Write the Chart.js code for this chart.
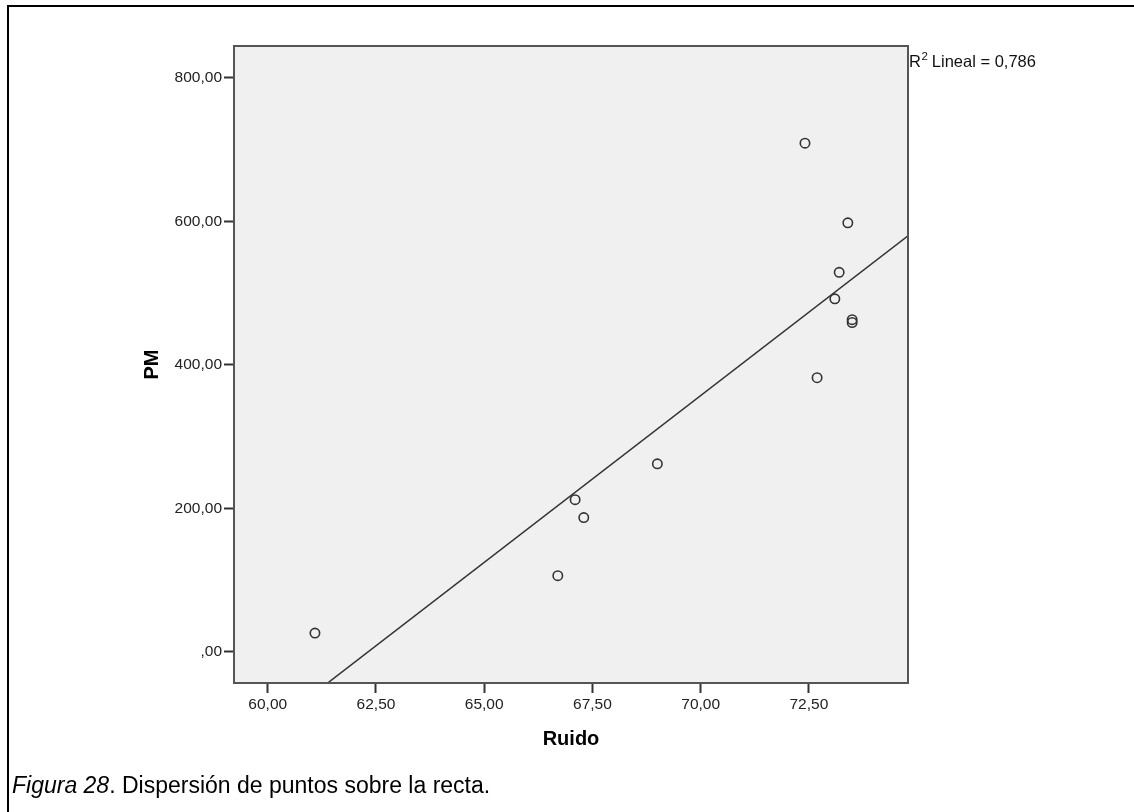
<!DOCTYPE html>
<html>
<head>
<meta charset="utf-8">
<script src="https://cdn.jsdelivr.net/npm/chart.js@4/dist/chart.umd.min.js"></script>
<style>
  html, body { margin: 0; padding: 0; background: #fff; overflow: hidden; }
  #wrap { position: relative; width: 1134px; height: 812px; }
  #frame { position: absolute; left: 7px; top: 5px; width: 1300px; height: 1000px;
           border-top: 2px solid #000; border-left: 2px solid #000; }
  #chart { position: absolute; left: 0; top: 0; }
  #caption { position: absolute; left: 12px; top: 774px; font-family: "Liberation Sans", Arial, sans-serif;
             font-size: 23px; line-height: 23px; color: #000; white-space: nowrap; }
</style>
</head>
<body>
<div id="wrap">
  <div id="frame"></div>
  <canvas id="chart" width="1134" height="812"></canvas>
  <div id="caption"><i>Figura 28</i>. Dispersión de puntos sobre la recta.</div>
</div>
<script>
// ========== DATA ==========
const ruido = [61.09, 66.70, 67.10, 67.30, 69.00, 72.41, 73.40, 73.20, 73.10, 73.50, 73.50, 72.69];
const pm    = [26, 106, 212, 187, 262, 709, 598, 529, 492, 463, 459, 382];

const xTicks = [60, 62.5, 65, 67.5, 70, 72.5];
const xTickLabels = ['60,00', '62,50', '65,00', '67,50', '70,00', '72,50'];
const yTicks = [0, 200, 400, 600, 800];
const yTickLabels = [',00', '200,00', '400,00', '600,00', '800,00'];

const xRange = [59.22, 74.79];
const yRange = [-43.6, 844.5];
const r2Text = 'Lineal = 0,786';

// least squares fit through the points
function linearFit(xs, ys) {
    const n = xs.length;
    const mx = xs.reduce((a, b) => a + b, 0) / n;
    const my = ys.reduce((a, b) => a + b, 0) / n;
    let sxy = 0, sxx = 0;
    for (let i = 0; i < n; i++) {
        sxy += (xs[i] - mx) * (ys[i] - my);
        sxx += (xs[i] - mx) * (xs[i] - mx);
    }
    const slope = sxy / sxx;
    return { slope, intercept: my - slope * mx };
}
const fit = linearFit(ruido, pm);
const fitLine = xRange.map(x => ({ x, y: fit.intercept + fit.slope * x }));

const FONT = '"Liberation Sans", Arial, sans-serif';
Chart.defaults.font.family = FONT;

const plotBox = {
    id: 'plotBox',
    beforeDraw(chart) {
        const a = chart.chartArea, ctx = chart.ctx;
        ctx.save();
        ctx.fillStyle = '#f0f0f0';
        ctx.fillRect(a.left, a.top, a.right - a.left, a.bottom - a.top);
        ctx.restore();
    },
    afterDraw(chart) {
        const a = chart.chartArea, ctx = chart.ctx;
        ctx.save();
        ctx.strokeStyle = '#555';
        ctx.lineWidth = 2;
        ctx.strokeRect(a.left, a.top, a.right - a.left, a.bottom - a.top);
        // R2 label
        ctx.fillStyle = '#111';
        ctx.textBaseline = 'alphabetic';
        ctx.textAlign = 'left';
        let x = a.right + 1;
        const base = 66.5;
        ctx.font = '16.5px ' + FONT;
        ctx.fillText('R', x, base);
        x += ctx.measureText('R').width + 0.5;
        ctx.font = '11.5px ' + FONT;
        ctx.fillText('2', x, base - 6.5);
        x += ctx.measureText('2').width + 4;
        ctx.font = '16.5px ' + FONT;
        ctx.fillText(r2Text, x, base);
        ctx.restore();
    }
};

new Chart(document.getElementById('chart'), {
    type: 'scatter',
    data: {
        datasets: [
            {
                type: 'scatter',
                data: ruido.map((x, i) => ({ x, y: pm[i] })),
                pointStyle: 'circle',
                pointRadius: 4.7,
                pointBorderWidth: 1.6,
                pointBorderColor: '#333',
                pointBackgroundColor: 'rgba(0,0,0,0)'
            },
            {
                type: 'line',
                data: fitLine,
                borderColor: '#333',
                borderWidth: 1.5,
                pointRadius: 0,
                fill: false,
                clip: 0
            }
        ]
    },
    options: {
        responsive: false,
        animation: false,
        events: [],
        layout: { padding: { left: 120, top: 46, right: 226, bottom: 40 } },
        plugins: { legend: { display: false }, tooltip: { enabled: false } },
        scales: {
            x: {
                type: 'linear',
                min: xRange[0],
                max: xRange[1],
                afterBuildTicks: s => { s.ticks = xTicks.map(v => ({ value: v })); },
                afterFit: s => { s.height = 812 - 40 - 683; },
                ticks: {
                    color: '#222', font: { size: 15.5 }, padding: 2, maxRotation: 0,
                    callback: v => xTickLabels[xTicks.indexOf(v)]
                },
                grid: { drawOnChartArea: false, drawTicks: true, tickLength: 10, tickWidth: 2, tickColor: '#333' },
                border: { display: false },
                title: { display: true, text: 'Ruido', color: '#000', font: { size: 20, weight: 'bold' }, padding: { top: 0, bottom: 21 } }
            },
            y: {
                type: 'linear',
                min: yRange[0],
                max: yRange[1],
                afterBuildTicks: s => { s.ticks = yTicks.map(v => ({ value: v })); },
                afterFit: s => { s.width = 234 - 120; },
                ticks: {
                    color: '#222', font: { size: 15.5 }, padding: 2,
                    callback: v => yTickLabels[yTicks.indexOf(v)]
                },
                grid: { drawOnChartArea: false, drawTicks: true, tickLength: 10, tickWidth: 2, tickColor: '#333' },
                border: { display: false },
                title: { display: true, text: 'PM', color: '#000', font: { size: 20, weight: 'bold' }, padding: { top: 20, bottom: 0 } }
            }
        }
    },
    plugins: [plotBox]
});
</script>
</body>
</html>
